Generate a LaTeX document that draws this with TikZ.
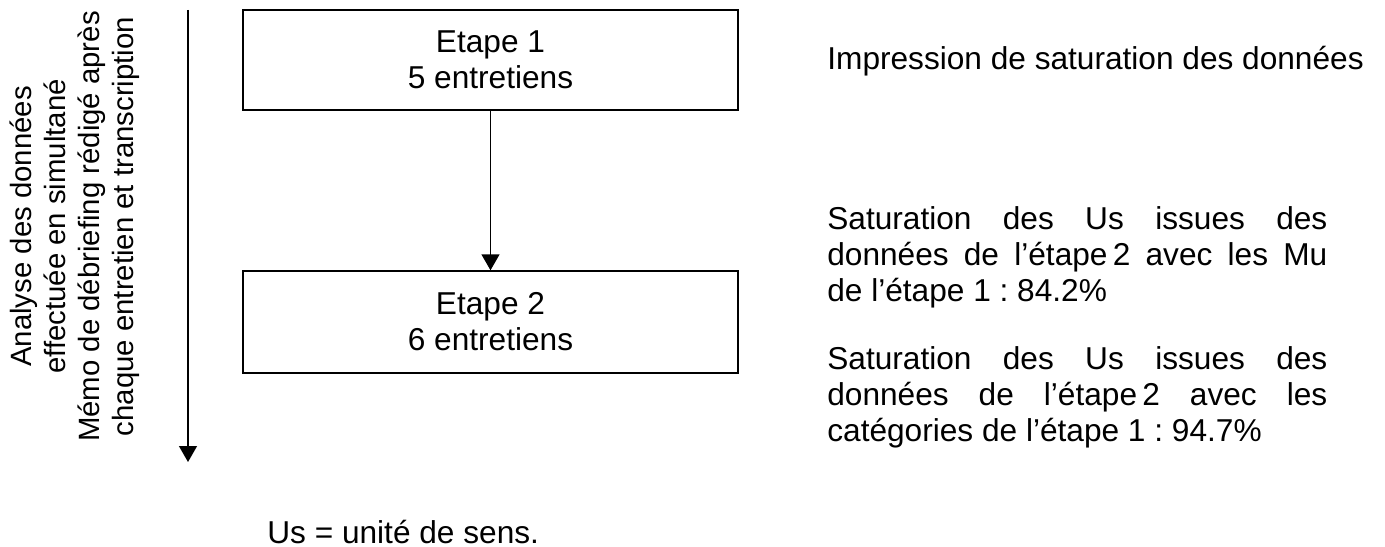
\documentclass[tikz,border=0pt]{standalone}
\usepackage{fontspec}
\setmainfont{Liberation Sans}
\usepackage{xcolor}
\usetikzlibrary{arrows.meta, positioning}
\definecolor{flowblack}{HTML}{000000}
\frenchspacing

\begin{document}
\begin{tikzpicture}[
  every node/.style={font=\fontsize{18}{20.5}\selectfont, text=flowblack},
  stepbox/.style={rectangle, draw=flowblack, line width=0.8pt, minimum width=9.9cm, minimum height=2.0cm, align=center},
  notetext/.style={anchor=north west, inner sep=0pt, text width=10cm, align=justify},
  flowarrow/.style={-{Triangle[width=0.36cm, length=0.32cm]}, line width=0.8pt, draw=flowblack},
]
\useasboundingbox (0,0) rectangle (27.7,-10.94);

% time axis on the left
\node[rotate=90, align=center, font=\fontsize{16.7}{19.3}\selectfont] (axislabel) at (1.5,-4.53)
  {Analyse des données\\effectuée en simultané\\Mémo de débriefing rédigé après\\chaque entretien et transcription};
\coordinate (axistop) at (3.76,-0.2);
\coordinate (axisend) at (3.76,-9.24);
\draw[flowarrow] (axistop) -- (axisend);

% the two steps
\node[stepbox] (etape1) at (9.81,-1.2) {Etape 1\\5 entretiens};
\node[stepbox, minimum height=2.04cm] (etape2) at (9.81,-6.44) {Etape 2\\6 entretiens};
\draw[flowarrow] (etape1) -- (etape2);

% saturation notes
\node[anchor=base west, inner sep=0pt] (impression) at (16.54,-1.4) {Impression de saturation des données};
\node[notetext] (satmu) at (16.54,-4.12)
  {Saturation des Us issues des\linebreak données de l’étape\,2 avec les Mu\linebreak de l’étape 1 : 84.2\%};
\node[notetext] (satcat) at (16.54,-6.92)
  {Saturation des Us issues des\linebreak données de l’étape\,2 avec les\linebreak catégories de l’étape 1 : 94.7\%};

% legend
\node[anchor=base west, inner sep=0pt] (legende) at (5.34,-10.86) {Us = unité de sens.};

\end{tikzpicture}
\end{document}
